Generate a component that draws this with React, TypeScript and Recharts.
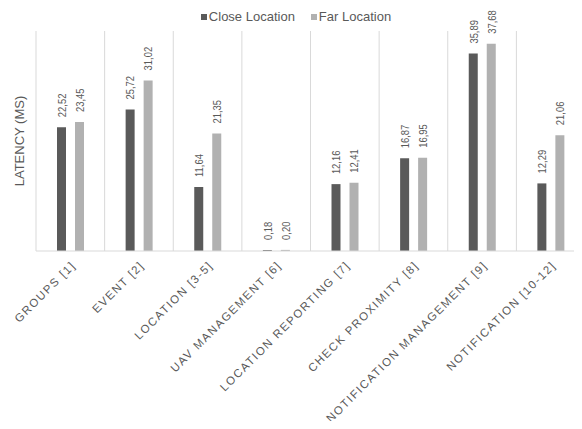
import { BarChart, Bar, XAxis, YAxis, CartesianGrid, LabelList } from "recharts"

const categories = [
  "GROUPS [1]",
  "EVENT [2]",
  "LOCATION [3-5]",
  "UAV MANAGEMENT [6]",
  "LOCATION REPORTING [7]",
  "CHECK PROXIMITY [8]",
  "NOTIFICATION MANAGEMENT [9]",
  "NOTIFICATION [10-12]",
]
const closeLocation = [22.52, 25.72, 11.64, 0.18, 12.16, 16.87, 35.89, 12.29]
const farLocation = [23.45, 31.02, 21.35, 0.2, 12.41, 16.95, 37.68, 21.06]

const DARK = "#5a5a5a"
const LIGHT = "#b1b1b1"
const GRID = "#d9d9d9"
const TEXT = "#595959"
const FONT = "'Liberation Sans', Arial, Helvetica, sans-serif"

const data = categories.map((name, i) => ({
  name,
  close: closeLocation[i],
  far: farLocation[i],
}))

const fmt = (v: number) => v.toFixed(2).replace(".", ",")

// rotated value above each bar, a bit condensed like the original
function ValueLabel(props: any) {
  const { x, y, width, value } = props
  const cx = x + width / 2
  const cy = y - 10
  return (
    <text
      x={0}
      y={0}
      transform={`translate(${cx},${cy}) rotate(-90) scale(0.82,1)`}
      textAnchor="start"
      dominantBaseline="central"
      fontSize={11.5}
      fontFamily={FONT}
      fill={TEXT}
    >
      {fmt(value)}
    </text>
  )
}

function CategoryTick(props: any) {
  const { x, y, payload } = props
  return (
    <g transform={`translate(${x + 6},${y + 7})`}>
      <text
        x={0}
        y={0}
        transform="rotate(-45)"
        textAnchor="end"
        fontSize={11.5}
        letterSpacing={1.5}
        fontFamily={FONT}
        fill={TEXT}
      >
        {payload.value}
      </text>
    </g>
  )
}

function LegendRow() {
  const items = [
    { name: "Close Location", color: DARK },
    { name: "Far Location", color: LIGHT },
  ]
  return (
    <div
      style={{
        position: "absolute",
        top: 8,
        left: -4,
        width: 600,
        display: "flex",
        justifyContent: "center",
        gap: 16,
        fontFamily: FONT,
        fontSize: 13,
        color: TEXT,
        lineHeight: "17px",
      }}
    >
      {items.map((it) => (
        <span key={it.name} style={{ display: "flex", alignItems: "center" }}>
          <span style={{ width: 6, height: 6, background: it.color, marginRight: 2, display: "inline-block" }} />
          {it.name}
        </span>
      ))}
    </div>
  )
}

export default function App() {
  return (
    <div style={{ margin: -8, width: 582, height: 429, overflow: "hidden", position: "relative", background: "#fff" }}>
      <LegendRow />
      <BarChart
        width={600}
        height={429}
        data={data}
        margin={{ top: 31, right: 15, left: 0, bottom: 0 }}
        barSize={9}
        barGap={9}
      >
        <CartesianGrid
          horizontal={false}
          stroke={GRID}
          verticalCoordinatesGenerator={({ offset }: any) =>
            categories.map((_, i) => offset.left + ((i + 1) * offset.width) / categories.length)
          }
        />
        <XAxis
          dataKey="name"
          interval={0}
          height={178}
          axisLine={{ stroke: GRID }}
          tickLine={false}
          tick={<CategoryTick />}
        />
        <YAxis
          width={36}
          domain={[0, 40]}
          tick={false}
          tickLine={false}
          axisLine={{ stroke: GRID }}
          label={{
            content: ({ viewBox }: any) => {
              const cx = viewBox.x + 19.5
              const cy = viewBox.y + viewBox.height / 2
              return (
                <text
                  x={cx}
                  y={cy}
                  transform={`rotate(-90, ${cx}, ${cy})`}
                  textAnchor="middle"
                  dominantBaseline="central"
                  fontSize={13}
                  fontFamily={FONT}
                  fill={TEXT}
                >
                  LATENCY (MS)
                </text>
              )
            },
          }}
        />
        <Bar dataKey="close" name="Close Location" fill={DARK} isAnimationActive={false}>
          <LabelList dataKey="close" content={<ValueLabel />} />
        </Bar>
        <Bar dataKey="far" name="Far Location" fill={LIGHT} isAnimationActive={false}>
          <LabelList dataKey="far" content={<ValueLabel />} />
        </Bar>
      </BarChart>
    </div>
  )
}
